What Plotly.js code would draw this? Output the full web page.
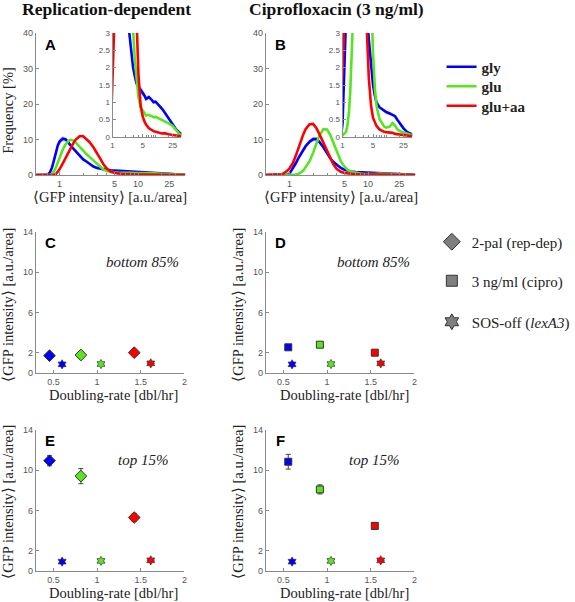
<!DOCTYPE html>
<html><head><meta charset="utf-8">
<script src="https://cdn.plot.ly/plotly-3.0.1.min.js"></script>
<style>html,body{margin:0;padding:0;background:#fff}#chart{width:575px;height:602px}</style>
</head><body><div id="chart"></div>
<script>
// ---------- data ----------
const intensity = [0.5, 0.7, 0.75, 0.8, 0.85, 0.9, 0.95, 1.0, 1.1, 1.2, 1.3, 1.4, 1.5, 1.6, 1.8, 2.0,
  2.2, 2.4, 2.7, 3.0, 3.3, 3.6, 4.0, 4.5, 5, 5.5, 6, 7, 8, 9, 10, 12, 14, 16, 18, 20, 25, 30, 35, 40];

// Panel A (replication-dependent) frequency [%]
const repGly = [0, 0.1, 0.6, 2.0, 4.2, 6.5, 8.3, 9.4, 10.2, 10.0, 9.2, 8.2, 7.4, 6.7, 5.4, 4.4,
  3.8, 3.1, 2.4, 2.0, 1.75, 1.55, 1.45, 1.35, 1.3, 1.2, 1.1, 1.15, 1.08, 1.0, 1.02, 0.92,
  0.82, 0.72, 0.63, 0.55, 0.37, 0.22, 0.14, 0.08];
const repGlySpread = [0, 0.03, 0.15, 0.35, 0.55, 0.7, 0.8, 0.8, 0.7, 0.6, 0.5, 0.4, 0.3, 0.25, 0.2, 0.2,
  0.18, 0.17, 0.16, 0.15, 0.14, 0.13, 0.12, 0.1, 0.09, 0.08, 0.07, 0.06, 0.05, 0.05, 0.05, 0.05,
  0.04, 0.04, 0.04, 0.04, 0.03, 0.03, 0.02, 0.02];
const repGlu = [0, 0, 0.05, 0.3, 1.0, 2.2, 3.6, 5.0, 7.2, 8.7, 9.6, 9.9, 9.7, 9.2, 7.9, 6.8,
  5.9, 5.1, 4.1, 3.1, 2.2, 1.6, 1.15, 0.85, 0.75, 0.68, 0.62, 0.64, 0.6, 0.57, 0.58, 0.54,
  0.5, 0.46, 0.42, 0.4, 0.32, 0.2, 0.1, 0.05];
const repGluAa = [0, 0, 0, 0, 0.05, 0.3, 0.9, 1.6, 3.3, 5.0, 6.6, 7.9, 9.0, 9.9, 10.9, 10.9,
  10.2, 9.3, 7.8, 6.3, 4.6, 3.1, 1.8, 0.9, 0.6, 0.45, 0.36, 0.25, 0.2, 0.17, 0.15, 0.12,
  0.1, 0.11, 0.09, 0.08, 0.06, 0.04, 0.03, 0.02];

// Panel B (ciprofloxacin 3 ng/ml) frequency [%]
const ciproGly = [0, 0, 0, 0, 0.02, 0.05, 0.15, 0.4, 1.8, 3.3, 4.8, 6.1, 7.2, 8.1, 9.4, 10.1,
  10.1, 9.3, 7.8, 6.0, 4.7, 3.7, 2.8, 2.0, 1.5, 1.2, 1.0, 0.86, 0.8, 0.75, 0.72, 0.68,
  0.63, 0.6, 0.5, 0.42, 0.25, 0.15, 0.1, 0.07];
const ciproGlySpread = [0, 0, 0, 0, 0, 0.02, 0.05, 0.1, 0.2, 0.3, 0.4, 0.5, 0.55, 0.6, 0.65, 0.65,
  0.6, 0.55, 0.5, 0.45, 0.4, 0.35, 0.3, 0.2, 0.12, 0.08, 0.06, 0.05, 0.05, 0.05, 0.05, 0.05,
  0.04, 0.04, 0.04, 0.03, 0.03, 0.02, 0.02, 0.02];
const ciproGlu = [0, 0, 0, 0, 0, 0, 0, 0.05, 0.1, 0.15, 0.35, 0.7, 1.3, 2.1, 3.9, 6.3,
  9.0, 11.2, 12.9, 12.8, 11.3, 9.3, 6.4, 3.9, 2.4, 1.4, 0.9, 0.52, 0.38, 0.3, 0.27, 0.3,
  0.4, 0.33, 0.22, 0.18, 0.13, 0.1, 0.07, 0.05];
const ciproGluAa = [0, 0, 0.05, 0.2, 0.5, 0.9, 1.3, 1.9, 3.3, 5.4, 7.7, 9.8, 11.5, 12.9, 14.3, 14.4,
  13.2, 11.5, 9.0, 6.9, 4.7, 3.1, 1.7, 0.9, 0.55, 0.4, 0.32, 0.22, 0.17, 0.15, 0.14, 0.13,
  0.12, 0.09, 0.08, 0.07, 0.05, 0.04, 0.03, 0.02];

// Panels C-F: doubling rate vs mean GFP intensity (order: gly, glu, glu+aa)
const media = ['gly', 'glu', 'glu+aa'];
const rateRepDep = [0.456, 0.815, 1.426];
const rateCipro = [0.556, 0.918, 1.547];
const rateSosOff = [0.60, 1.045, 1.615];
const rateSosOffErr = [0.02, 0.03, 0.045];

const repDepBottom = [1.72, 1.79, 2.02];
const repDepBottomErr = [0.2, 0.2, 0.25];
const ciproBottom = [2.55, 2.81, 2.02];
const ciproBottomErr = [0.12, 0.12, 0.12];
const sosOffBottom = [0.86, 0.89, 0.96];

const repDepTop = [10.95, 9.42, 5.31];
const repDepTopErr = [0.5, 0.75, 0.38];
const ciproTop = [10.85, 8.1, 4.48];
const ciproTopErr = [0.73, 0.45, 0.3];
const sosOffTop = [0.93, 1.0, 1.06];

const markerTypes = ['2-pal (rep-dep)', '3 ng/ml (cipro)', 'SOS-off (<i>lexA3</i>)'];

const histTicks = [1, 5, 10, 25];
const insetXTicks = [1, 5, 25];
const insetYTicks = [0, 0.5, 1, 1.5, 2, 2.5, 3];
const freqTicks = [0, 10, 20, 30, 40];
const rateTicks = [0.5, 1, 1.5, 2];
const gfpTicks = [0, 2, 6, 10, 14];

// ---------- styling ----------
const W = 575, H = 602;
const px = x => x / W, py = y => 1 - y / H;
const COLORS = ['rgb(0,0,255)', 'rgb(85,230,30)', 'rgb(255,0,0)'];
const BAND = 'rgba(110,110,255,0.38)';
const AX = '#8a8a8a';
const SANS = 'Liberation Sans, Arial, sans-serif';
const SERIF = 'Liberation Serif, Times New Roman, serif';

function axis(dom, range, vals, extra) {
  return Object.assign({
    domain: dom, range: range, tickmode: 'array', tickvals: vals,
    ticktext: vals.map(String), showline: true, linecolor: AX, linewidth: 1,
    ticks: 'inside', ticklen: 3, tickcolor: AX, showgrid: false, zeroline: false,
    tickfont: {family: SANS, size: 9, color: '#555'}, fixedrange: true
  }, extra || {});
}
const L = v => Math.log10(v);
const logMinor = {ticks: 'inside', ticklen: 2, tickcolor: AX, dtick: 'D1', showgrid: false};
const smallTick = {family: SANS, size: 8, color: '#555'};

function legendAt(x, y, bold) {
  return {x: px(x), y: py(y), xanchor: 'left', yanchor: 'middle', bgcolor: 'rgba(0,0,0,0)',
    font: {family: SERIF, size: 15, color: '#222', weight: bold ? 'bold' : 'normal'},
    itemclick: false, itemdoubleclick: false, entrywidth: 30, entrywidthmode: 'pixels'};
}

const layout = {
  width: W, height: H, margin: {l: 0, r: 0, t: 0, b: 0},
  paper_bgcolor: '#fff', plot_bgcolor: 'rgba(0,0,0,0)', showlegend: true,
  // A main + inset
  xaxis: axis([px(37), px(191)], [L(0.5), L(40)], histTicks, {type: 'log', anchor: 'y', minor: logMinor}),
  yaxis: axis([py(175), py(33)], [0, 40], freqTicks, {anchor: 'x'}),
  xaxis2: axis([px(116), px(187)], [0, L(40)], insetXTicks, {type: 'log', anchor: 'y2', minor: logMinor, tickfont: smallTick}),
  yaxis2: axis([py(137), py(33)], [0, 3], insetYTicks, {anchor: 'x2', tickfont: smallTick}),
  // B main + inset
  xaxis3: axis([px(274), px(428)], [L(0.5), L(40)], histTicks, {type: 'log', anchor: 'y3', minor: logMinor}),
  yaxis3: axis([py(175), py(33)], [0, 40], freqTicks, {anchor: 'x3'}),
  xaxis4: axis([px(353), px(425)], [0, L(40)], insetXTicks, {type: 'log', anchor: 'y4', minor: logMinor, tickfont: smallTick}),
  yaxis4: axis([py(137), py(33)], [0, 3], insetYTicks, {anchor: 'x4', tickfont: smallTick}),
  // C, D
  xaxis5: axis([px(37), px(190)], [0.3, 2.0], rateTicks, {anchor: 'y5'}),
  yaxis5: axis([py(373), py(232)], [0, 14], gfpTicks, {anchor: 'x5'}),
  xaxis6: axis([px(274), px(427)], [0.3, 2.0], rateTicks, {anchor: 'y6'}),
  yaxis6: axis([py(373), py(232)], [0, 14], gfpTicks, {anchor: 'x6'}),
  // E, F
  xaxis7: axis([px(37), px(190)], [0.3, 2.0], rateTicks, {anchor: 'y7'}),
  yaxis7: axis([py(571), py(430)], [0, 14], gfpTicks, {anchor: 'x7'}),
  xaxis8: axis([px(274), px(427)], [0.3, 2.0], rateTicks, {anchor: 'y8'}),
  yaxis8: axis([py(571), py(430)], [0, 14], gfpTicks, {anchor: 'x8'}),
  // colour legends (one entry each)
  legend: legendAt(455, 67, true),
  legend3: legendAt(455, 86.5, true),
  legend4: legendAt(455, 106, true),
  // marker-type legends
  legend2: legendAt(445, 242, false),
  legend5: legendAt(445, 281, false),
  legend6: legendAt(445, 322, false),
  annotations: []
};

const traces = [];
const colorLegends = ['legend', 'legend3', 'legend4'];
const markerLegends = ['legend2', 'legend5', 'legend6'];
function addDist(xa, ya, gly, glySpread, glu, gluAa, legend) {
  const lo = gly.map((v, i) => Math.max(0, v - glySpread[i]));
  const hi = gly.map((v, i) => v + glySpread[i]);
  traces.push({x: intensity, y: lo, xaxis: xa, yaxis: ya, mode: 'lines', line: {width: 0, color: BAND}, showlegend: false, hoverinfo: 'skip'});
  traces.push({x: intensity, y: hi, xaxis: xa, yaxis: ya, mode: 'lines', line: {width: 0, color: BAND}, fill: 'tonexty', fillcolor: BAND, showlegend: false, hoverinfo: 'skip'});
  [gly, glu, gluAa].forEach((s, k) => {
    traces.push({x: intensity, y: s, xaxis: xa, yaxis: ya, mode: 'lines', name: media[k],
      line: {color: COLORS[k], width: 2.6}, showlegend: legend, legend: colorLegends[k]});
  });
}
addDist('x', 'y', repGly, repGlySpread, repGlu, repGluAa, true);
addDist('x2', 'y2', repGly, repGlySpread, repGlu, repGluAa, false);
addDist('x3', 'y3', ciproGly, ciproGlySpread, ciproGlu, ciproGluAa, false);
addDist('x4', 'y4', ciproGly, ciproGlySpread, ciproGlu, ciproGluAa, false);

function addRate(xa, ya, rate, vals, errs, symbol, size) {
  traces.push({x: rate, y: vals, xaxis: xa, yaxis: ya, mode: 'markers', showlegend: false,
    marker: {symbol: symbol, size: size, color: COLORS, line: {color: '#333', width: 1}},
    error_y: {type: 'data', array: errs, visible: true, color: '#444', thickness: 1, width: 2.5}});
}
function addSos(xa, ya, vals) {
  traces.push({x: rateSosOff, y: vals, xaxis: xa, yaxis: ya, mode: 'markers', showlegend: false,
    marker: {symbol: 'hexagram', size: 7, color: COLORS, line: {color: '#333', width: 0.7}},
    error_x: {type: 'data', array: rateSosOffErr, visible: true, color: '#444', thickness: 1, width: 0}});
}
addRate('x5', 'y5', rateRepDep, repDepBottom, repDepBottomErr, 'diamond', 9); addSos('x5', 'y5', sosOffBottom);
addRate('x6', 'y6', rateCipro, ciproBottom, ciproBottomErr, 'square', 7); addSos('x6', 'y6', sosOffBottom);
addRate('x7', 'y7', rateRepDep, repDepTop, repDepTopErr, 'diamond', 9); addSos('x7', 'y7', sosOffTop);
addRate('x8', 'y8', rateCipro, ciproTop, ciproTopErr, 'square', 7); addSos('x8', 'y8', sosOffTop);

// marker-type legend entries
[['diamond', 13], ['square', 11], ['hexagram', 12]]
  .forEach((d, i) => traces.push({x: [null], y: [null], xaxis: 'x5', yaxis: 'y5', mode: 'markers', name: markerTypes[i],
    legend: markerLegends[i], showlegend: true,
    marker: {symbol: d[0], size: d[1], color: '#7f7f7f', line: {color: '#333', width: 1}}}));

// ---------- text ----------
const ann = layout.annotations;
function txt(text, x, y, font, extra) {
  ann.push(Object.assign({text: text, xref: 'paper', yref: 'paper', x: px(x), y: py(y),
    xanchor: 'center', yanchor: 'middle', showarrow: false, font: font}, extra || {}));
}
const titleFont = {family: SERIF, size: 17.5, color: '#111'};
const labFont = {family: SERIF, size: 14.5, color: '#222'};
const letterFont = {family: SANS, size: 15, color: '#000'};
const noteFont = {family: SERIF, size: 15, color: '#222'};
txt('<b>Replication-dependent</b>', 110, 9, titleFont);
txt('<b>Ciprofloxacin (3 ng/ml)</b>', 347, 9, titleFont);
[['A', 52, 44], ['B', 289, 44], ['C', 52, 242], ['D', 289, 242], ['E', 52, 440], ['F', 289, 440]]
  .forEach(d => txt('<b>' + d[0] + '</b>', d[1], d[2], letterFont));
txt('Frequency [%]', 8, 110, labFont, {textangle: -90});
txt('\u27E8GFP intensity\u27E9 [a.u./area]', 113, 197, labFont);
txt('\u27E8GFP intensity\u27E9 [a.u./area]', 351, 197, labFont);
txt('\u27E8GFP intensity\u27E9 [a.u./area]', 8, 305, labFont, {textangle: -90});
txt('\u27E8GFP intensity\u27E9 [a.u./area]', 245, 305, labFont, {textangle: -90});
txt('\u27E8GFP intensity\u27E9 [a.u./area]', 8, 502, labFont, {textangle: -90});
txt('\u27E8GFP intensity\u27E9 [a.u./area]', 245, 502, labFont, {textangle: -90});
txt('Doubling-rate [dbl/hr]', 117, 395, labFont);
txt('Doubling-rate [dbl/hr]', 355, 395, labFont);
txt('Doubling-rate [dbl/hr]', 117, 593, labFont);
txt('Doubling-rate [dbl/hr]', 355, 593, labFont);
txt('<i>bottom 85%</i>', 147, 262, noteFont);
txt('<i>bottom 85%</i>', 385, 262, noteFont);
txt('<i>top 15%</i>', 147, 460, noteFont);
txt('<i>top 15%</i>', 385, 460, noteFont);

Plotly.newPlot('chart', traces, layout, {displayModeBar: false, staticPlot: true});
</script></body></html>
